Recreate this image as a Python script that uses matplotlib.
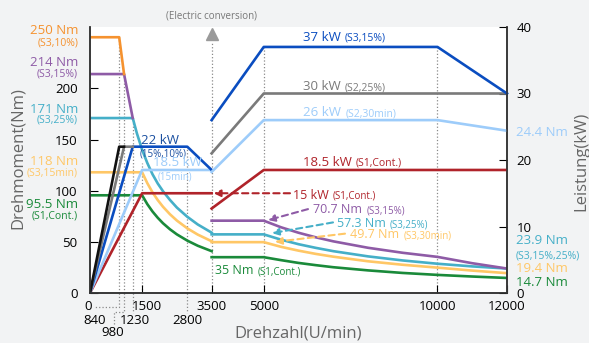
import matplotlib.pyplot as plt
from matplotlib.transforms import blended_transform_factory

plt.rcParams['font.family'] = ['Open Sans', 'DejaVu Sans']

# ---- torque curves, left part (Nm over U/min)
s3_10_rpm = [0, 840, 980]
s3_10_nm = [250, 250, 214]
s3_15_rpm = [0, 980, 1230]
s3_15_nm = [214, 214, 171]
s3_25_rpm = [0, 1230, 1350, 1500, 1650, 1800, 1950, 2100, 2300, 2500, 2800, 3100, 3500]
s3_25_nm = [171, 171, 156, 140, 127, 116, 107, 99.5, 91, 83.5, 74.5, 67, 59]
s3_15min_rpm = [0, 1500, 1650, 1800, 1950, 2100, 2300, 2500, 2800, 3100, 3500]
s3_15min_nm = [118, 118, 107.3, 98.3, 90.8, 84.3, 77.0, 70.8, 63.2, 57.1, 50.6]
s1_rpm = [0, 1500, 1650, 1800, 1950, 2100, 2300, 2500, 2800, 3100, 3500]
s1_nm = [95.5, 95.5, 86.8, 79.6, 73.5, 68.2, 62.3, 57.3, 51.2, 46.2, 40.9]

# ---- power curves, left part (kW)
p_black_rpm = [0, 840, 980]
p_black_kw = [0, 22, 22]
p_gray_rpm = [0, 980, 1230]
p_gray_kw = [0, 22, 22]
p_22_rpm = [0, 1230, 2800, 3500]
p_22_kw = [0, 22, 22, 18.5]
p_185_rpm = [0, 1500, 3500]
p_185_kw = [0, 18.5, 18.5]
p_15_rpm = [0, 1500, 3500]
p_15_kw = [0, 15, 15]

# ---- right part (electric conversion), torque
right_rpm = [3500, 5000, 5500, 6000, 6500, 7000, 8000, 9000, 10000, 11000, 12000]
t_s3_15 = [70.7, 70.7, 64.2, 58.9, 54.4, 50.5, 44.2, 39.3, 35.3, 29.1, 23.9]
t_s3_25 = [57.3, 57.3, 52.1, 47.7, 44.1, 40.9, 35.8, 31.8, 28.6, 26.0, 23.9]
t_s3_30 = [49.7, 49.7, 45.1, 41.4, 38.2, 35.5, 31.0, 27.6, 24.8, 21.9, 19.4]
t_s1 = [35, 35, 32.1, 29.4, 27.2, 25.2, 22.1, 19.6, 17.7, 16.1, 14.7]

# ---- right part, power
p37_rpm = [3500, 5000, 10000, 12000]
p37_kw = [26, 37, 37, 30]
p30_rpm = [3500, 5000, 12000]
p30_kw = [21, 30, 30]
p26_rpm = [3500, 5000, 10000, 12000]
p26_kw = [18.2, 26, 26, 24.4]
p185r_rpm = [3500, 5000, 12000]
p185r_kw = [12.7, 18.5, 18.5]

c_orange = '#F5922F'
c_purple = '#8E5BA6'
c_cyan = '#45AFC8'
c_yellow = '#FFC766'
c_green = '#1A8A3A'
c_blue = '#0A4DC0'
c_gray = '#7A7A7A'
c_lblue = '#9DCCFA'
c_red = '#B0232A'
c_dot = '#8a8a8a'

W, H = 589, 343
fig = plt.figure(figsize=(W / 100, H / 100), dpi=100)
fig.patch.set_facecolor('#F2F3F4')
ax = fig.add_axes([90 / W, 1 - 293 / H, 417 / W, 266 / H])
ax.set_facecolor('white')
ax2 = ax.twinx()

ax.set_xlim(0, 12000)
ax.set_ylim(0, 260)
ax2.set_ylim(0, 40)

lw = 1.9
# dotted guides
for x, top in [(840, 250), (980, 214), (1230, 171), (1500, 127), (2800, 143),
               (3500, 245), (5000, 241), (10000, 241)]:
    ax.plot([x, x], [0, top], ls=':', color=c_dot, lw=0.9, zorder=1)
ax.plot(3500, 253, marker='^', ms=9, color='#9a9a9a', clip_on=False, zorder=2)

# torque lines
ax.plot(s1_rpm, s1_nm, color=c_green, lw=lw)
ax.plot(s3_15min_rpm, s3_15min_nm, color=c_yellow, lw=lw)
ax.plot(s3_25_rpm, s3_25_nm, color=c_cyan, lw=lw)
ax.plot(s3_15_rpm, s3_15_nm, color=c_purple, lw=lw)
ax.plot(s3_10_rpm, s3_10_nm, color=c_orange, lw=lw)
ax.plot(right_rpm, t_s1, color=c_green, lw=lw)
ax.plot(right_rpm, t_s3_30, color=c_yellow, lw=lw)
ax.plot(right_rpm, t_s3_25, color=c_cyan, lw=lw)
ax.plot(right_rpm, t_s3_15, color=c_purple, lw=lw)

# power lines
ax2.plot(p_15_rpm, p_15_kw, color=c_red, lw=lw)
ax2.plot(p_185_rpm, p_185_kw, color=c_lblue, lw=lw)
ax2.plot(p_22_rpm, p_22_kw, color=c_blue, lw=lw)
ax2.plot(p_gray_rpm, p_gray_kw, color=c_gray, lw=lw)
ax2.plot(p_black_rpm, p_black_kw, color='#111111', lw=lw)
ax2.plot(p185r_rpm, p185r_kw, color=c_red, lw=lw)
ax2.plot(p26_rpm, p26_kw, color=c_lblue, lw=lw)
ax2.plot(p30_rpm, p30_kw, color=c_gray, lw=lw)
ax2.plot(p37_rpm, p37_kw, color=c_blue, lw=lw, clip_on=False)

# axes styling
for a in (ax, ax2):
    a.spines['top'].set_visible(False)
    for s in ('left', 'right', 'bottom'):
        a.spines[s].set_color('#333333')
        a.spines[s].set_linewidth(1.1)
ax.set_yticks([0, 50, 100, 150, 200])
ax.tick_params(axis='y', direction='in', length=6, pad=9, labelsize=9.5)
ax2.set_yticks([0, 10, 20, 30, 40])
ax2.tick_params(axis='y', direction='in', length=6, pad=7, labelsize=9.5)
ax.set_xticks([0, 1500, 3500, 5000, 10000, 12000])
ax.set_xticklabels([])
ax.tick_params(axis='x', direction='in', length=6)

# x tick labels (manual, staggered)
bt = blended_transform_factory(ax.transData, ax.transAxes)
r1, r2, r3 = -0.052, -0.102, -0.147
for x, lab, row in [(-40, '0', r1), (1650, '1500', r1), (3500, '3500', r1), (5000, '5000', r1),
                    (10000, '10000', r1), (12000, '12000', r1), (130, '840', r2),
                    (1300, '1230', r2), (2810, '2800', r2), (640, '980', r3)]:
    ax.text(x, row, lab, transform=bt, ha='center', va='center', fontsize=9.5, clip_on=False)
dk = dict(ls=':', color=c_dot, lw=0.9, transform=bt, clip_on=False)
ax.plot([840, 840, 150], [0, -0.052, -0.052], **dk)
ax.plot([980, 980, 680, 680], [0, -0.072, -0.072, -0.12], **dk)
ax.plot([1230, 1230], [0, -0.075], **dk)
ax.plot([2800, 2800], [0, -0.075], **dk)

ax.text(3500, 1.041, '(Electric conversion)', transform=bt, ha='center', va='center',
        fontsize=7, color='#777777', clip_on=False)


def label2(axis, x, y, big, small, color, bs=9.5, ss=7.5, trans=None):
    t = axis.text(x, y, big, color=color, fontsize=bs, va='baseline',
                  transform=trans if trans is not None else axis.transData, zorder=6)
    axis.annotate(small, xy=(1, 0), xycoords=t, xytext=(3, 0), textcoords='offset points',
                  color=color, fontsize=ss, va='bottom', zorder=6)
    return t


label2(ax2, 6130, 37.9, '37 kW', '(S3,15%)', c_blue)
label2(ax2, 6130, 30.5, '30 kW', '(S2,25%)', c_gray)
label2(ax2, 6130, 26.6, '26 kW', '(S2,30min)', c_lblue)
label2(ax2, 6130, 19.1, '18.5 kW', '(S1,Cont.)', c_red)
label2(ax2, 5842, 14.2, '15 kW', '(S1,Cont.)', c_red, bs=9, ss=7)
label2(ax2, 6417, 78.0, '70.7 Nm', '(S3,15%)', c_purple, bs=9, ss=7, trans=ax.transData)
label2(ax2, 7108, 64.5, '57.3 Nm', '(S3,25%)', c_cyan, bs=9, ss=7, trans=ax.transData)
label2(ax2, 7482, 53.4, '49.7 Nm', '(S3,30min)', c_yellow, bs=9, ss=7, trans=ax.transData)
label2(ax2, 3597, 18.5, '35 Nm', '(S1,Cont.)', c_green, bs=9, ss=7, trans=ax.transData)

ax2.text(1468, 23.0, '22 kW', color='#1A4FA0', fontsize=9.5, va='center', zorder=6)
ax2.text(1439, 20.9, '(15%,10%)', color='#1A4FA0', fontsize=7, va='center', zorder=6)
ax2.text(1813, 19.6, '18.5 kW', color=c_lblue, fontsize=9.5, va='center', zorder=6)
ax2.text(1957, 17.4, '(15min)', color=c_lblue, fontsize=7, va='center', zorder=6)


# dashed pointer arrows
def pointer(axis, start, end, color, trans):
    axis.annotate('', xy=end, xytext=start, xycoords=trans, textcoords=trans,
                  arrowprops=dict(arrowstyle='-|>', ls=(0, (3, 2)), lw=1.5, color=color,
                                  mutation_scale=10, shrinkA=0, shrinkB=0), zorder=6)


pointer(ax2, (5755, 15), (3560, 15), c_red, ax2.transData)
pointer(ax2, (6273, 82), (5122, 71.2), c_purple, ax.transData)
pointer(ax2, (6993, 69), (5237, 58.5), c_cyan, ax.transData)
pointer(ax2, (7338, 58), (5324, 50), c_yellow, ax.transData)

# left side labels
for yc, s, c, fs in [(31, '250 Nm', c_orange, 9.5), (43, '(S3,10%)', c_orange, 7.5),
                     (63, '214 Nm', c_purple, 9.5), (74, '(S3,15%)', c_purple, 7.5),
                     (109, '171 Nm', c_cyan, 9.5), (120, '(S3,25%)', c_cyan, 7.5),
                     (162, '118 Nm', c_yellow, 9.5), (173, '(S3,15min)', c_yellow, 7.5),
                     (204, '95.5 Nm', c_green, 9.5), (216, '(S1,Cont.)', c_green, 7.5)]:
    fig.text(78 / W, 1 - yc / H, s, color=c, fontsize=fs, ha='right', va='center')

# right side labels
for yc, s, c, fs in [(132, '24.4 Nm', c_lblue, 9.5), (240, '23.9 Nm', c_cyan, 9.5),
                     (256, '(S3,15%,25%)', c_cyan, 7.5), (269, '19.4 Nm', c_yellow, 9.5),
                     (282, '14.7 Nm', c_green, 9.5)]:
    fig.text(516 / W, 1 - yc / H, s, color=c, fontsize=fs, ha='left', va='center')

fig.text(298 / W, 1 - 333 / H, 'Drehzahl(U/min)', fontsize=12, color='#666666',
         ha='center', va='center')
fig.text(18 / W, 1 - 158 / H, 'Drehmoment(Nm)', fontsize=12, color='#666666',
         ha='center', va='center', rotation=90)
fig.text(581 / W, 1 - 161 / H, 'Leistung(kW)', fontsize=12, color='#666666',
         ha='center', va='center', rotation=90)

fig.savefig('out.png', dpi=100, facecolor=fig.get_facecolor())
